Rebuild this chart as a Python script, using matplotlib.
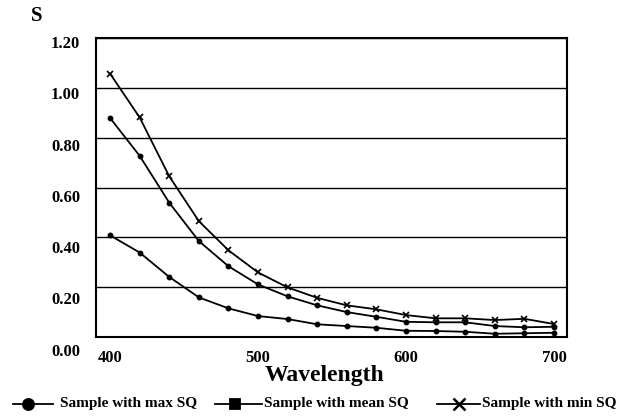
import matplotlib
matplotlib.use("Agg")
import matplotlib.pyplot as plt
from matplotlib.lines import Line2D
from matplotlib.transforms import ScaledTranslation

wavelength = [400, 420, 440, 460, 480, 500, 520, 540, 560, 580, 600, 620, 640, 660, 680, 700]
max_sq = [0.408, 0.339, 0.241, 0.159, 0.115, 0.084, 0.072, 0.051, 0.044, 0.037, 0.025, 0.024, 0.021, 0.013, 0.015, 0.017]
mean_sq = [0.879, 0.727, 0.539, 0.385, 0.284, 0.211, 0.163, 0.127, 0.100, 0.081, 0.061, 0.059, 0.059, 0.044, 0.039, 0.041]
min_sq = [1.057, 0.881, 0.645, 0.465, 0.348, 0.259, 0.199, 0.157, 0.127, 0.111, 0.088, 0.075, 0.075, 0.068, 0.073, 0.052]
y_ticks = [0.0, 0.2, 0.4, 0.6, 0.8, 1.0, 1.2]
y_tick_labels = ["0.00", "0.20", "0.40", "0.60", "0.80", "1.00", "1.20"]
x_ticks = [400, 500, 600, 700]
series_names = ["Sample with max SQ", "Sample with mean SQ", "Sample with min SQ"]

plt.rcParams['font.family'] = ['Liberation Serif', 'DejaVu Serif']
plt.rcParams['font.weight'] = 'bold'

W, H = 633, 416
fig = plt.figure(figsize=(W/100, H/100), dpi=100)
ax = fig.add_axes([96/W, 79/H, 471/W, 299/H])

ax.plot(wavelength, max_sq, color='black', lw=1.3, marker='o', ms=3.2)
ax.plot(wavelength, mean_sq, color='black', lw=1.3, marker='o', ms=3.2)
ax.plot(wavelength, min_sq, color='black', lw=1.3, marker='x', ms=5, mew=1.2)

ax.set_xlim(390.5, 708.8)
ax.set_ylim(0, 1.2)
ax.set_yticks(y_ticks)
ax.set_yticklabels(y_tick_labels)
ax.set_xticks(x_ticks)
ax.yaxis.grid(True, color='black', lw=1.0)
ax.set_axisbelow(True)
for s in ax.spines.values():
    s.set_linewidth(1.5)
    s.set_color('black')
ax.tick_params(axis='both', length=0, labelsize=12)
ax.tick_params(axis='y', pad=11.5)
ax.tick_params(axis='x', pad=9.5)

# scanned-figure label offsets (downward drift)
offsets = [13, 11, 10, 9, 7, 5, 4]
for lab, off in zip(ax.get_yticklabels(), offsets):
    lab.set_fontweight('bold')
    lab.set_transform(lab.get_transform() + ScaledTranslation(0, -off/100, fig.dpi_scale_trans))
for lab in ax.get_xticklabels():
    lab.set_fontweight('bold')

fig.text(37/W, 1 - 16/H, "S", fontsize=15, fontweight='bold', ha='center', va='center')
fig.text(325/W, 1 - 376/H, "Wavelength", fontsize=17, fontweight='bold', ha='center', va='center')

# legend drawn manually at the reference positions
leg_y = 1 - 404/H
leg_items = [
    (13, 53, 28, 'o', 8, 1.3, 60),
    (215, 262, 235, 's', 7.5, 1.3, 264),
    (437, 480, 459, 'x', 8, 1.8, 482),
]
for (x0, x1, xm, mk, ms, mew, xt), name in zip(leg_items, series_names):
    fig.add_artist(Line2D([x0/W, x1/W], [leg_y, leg_y], color='black', lw=1.3,
                          transform=fig.transFigure))
    fig.add_artist(Line2D([xm/W], [leg_y], color='black', marker=mk, ms=ms, mew=mew,
                          linestyle='none', transform=fig.transFigure))
    fig.text(xt/W, leg_y, name, fontsize=11, fontweight='bold', ha='left', va='center')

fig.savefig("out.png", dpi=100)
